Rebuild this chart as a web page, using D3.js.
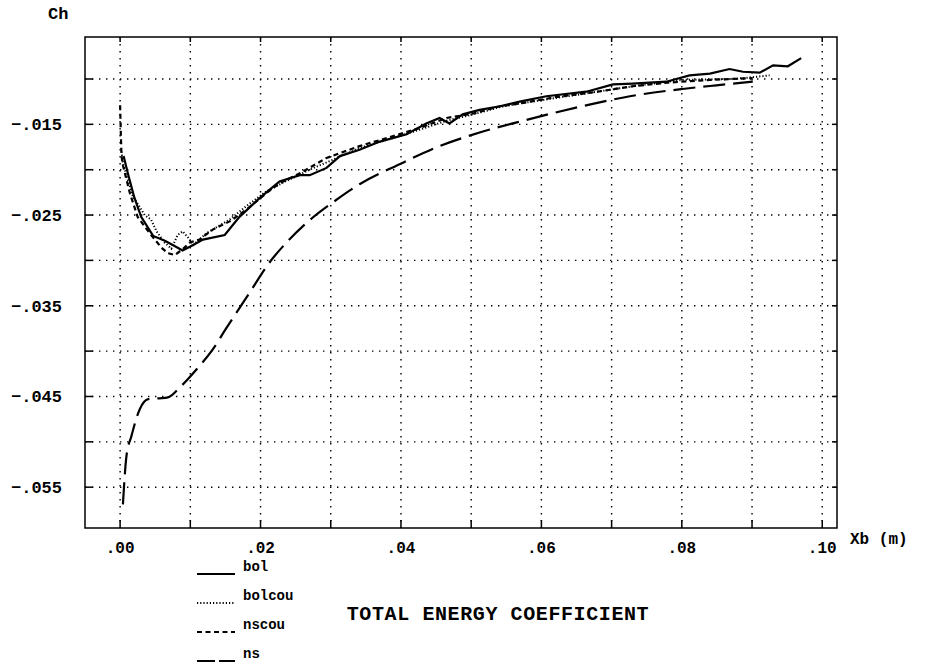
<!DOCTYPE html>
<html>
<head>
<meta charset="utf-8">
<script src="https://cdn.jsdelivr.net/npm/d3@7"></script>
<style>
    body { margin: 0; background: #fff; }
    svg { display: block; font-family: "Liberation Mono", monospace; font-weight: bold; }
</style>
</head>
<body>
<div id="container"></div>
<script>
// series: [Xb (m), Ch]
const bol = [
    [.0005, -.0185], [.0011, -.0204], [.0020, -.0230], [.0030, -.0252], [.0047, -.0273],
    [.0063, -.0278], [.0075, -.0283], [.0089, -.0289], [.0104, -.0283], [.0118, -.0277],
    [.0149, -.0272], [.0170, -.0252], [.0199, -.0231], [.0227, -.0213], [.0256, -.0206],
    [.0270, -.0206], [.0294, -.0198], [.0313, -.0185], [.0341, -.0178], [.0370, -.0169],
    [.0408, -.0161], [.0436, -.0149], [.0455, -.0143], [.0469, -.0149], [.0488, -.0139],
    [.0512, -.0134], [.0541, -.0130], [.0569, -.0125], [.0607, -.0119], [.0664, -.0114],
    [.0702, -.0106], [.0730, -.0105], [.0778, -.0103], [.0811, -.0096], [.0840, -.0094],
    [.0868, -.0089], [.0887, -.0092], [.0911, -.0093], [.0930, -.0085], [.0951, -.0086],
    [.0970, -.0077]
];
const bolcou = [
    [.0002, -.0180], [.0004, -.0193], [.0018, -.0229], [.0035, -.0250], [.0044, -.0255],
    [.0052, -.0268], [.0063, -.0280], [.0073, -.0287], [.0082, -.0272], [.0089, -.0268],
    [.0097, -.0275], [.0104, -.0283], [.0123, -.0270], [.0156, -.0255], [.0180, -.0240],
    [.0208, -.0224], [.0230, -.0215], [.0270, -.0200], [.0300, -.0190], [.0341, -.0176],
    [.0389, -.0165], [.0430, -.0155], [.0465, -.0146], [.0503, -.0139], [.0541, -.0131],
    [.0569, -.0127], [.0620, -.0121], [.0680, -.0114], [.0730, -.0108], [.0801, -.0101],
    [.0873, -.0100], [.0901, -.0098], [.0925, -.0096]
];
const nscou = [
    [.0000, -.0129], [.0001, -.0160], [.0002, -.0185], [.0004, -.0195], [.0014, -.0226],
    [.0025, -.0252], [.0042, -.0270], [.0059, -.0286], [.0068, -.0292], [.0078, -.0294],
    [.0090, -.0287], [.0100, -.0280], [.0113, -.0277], [.0132, -.0266], [.0156, -.0257],
    [.0180, -.0244], [.0208, -.0226], [.0227, -.0215], [.0256, -.0204], [.0294, -.0187],
    [.0341, -.0174], [.0389, -.0163], [.0427, -.0154], [.0465, -.0143], [.0503, -.0138],
    [.0541, -.0130], [.0569, -.0127], [.0620, -.0120], [.0680, -.0114], [.0730, -.0108],
    [.0780, -.0104], [.0840, -.0101], [.0901, -.0099]
];
const ns = [
    [.0004, -.0569], [.0009, -.0516], [.0016, -.0494], [.0028, -.0464], [.0040, -.0453],
    [.0056, -.0452], [.0068, -.0451], [.0085, -.0440], [.0109, -.0420], [.0132, -.0398],
    [.0151, -.0375], [.0184, -.0336], [.0213, -.0302], [.0241, -.0277], [.0274, -.0253],
    [.0303, -.0236], [.0341, -.0216], [.0398, -.0194], [.0455, -.0174], [.0512, -.0159],
    [.0569, -.0147], [.0620, -.0137], [.0664, -.0129], [.0726, -.0119], [.0801, -.0111],
    [.0849, -.0107], [.0901, -.0103]
];

const xTicks = [0, .01, .02, .03, .04, .05, .06, .07, .08, .09, .10];
const xLabels = [0, .02, .04, .06, .08, .10];
const yTicks = [-.055, -.050, -.045, -.040, -.035, -.030, -.025, -.020, -.015, -.010];
const yLabels = [-.055, -.045, -.035, -.025, -.015];

const seriesNames = ['bol', 'bolcou', 'nscou', 'ns'];
const seriesData = [bol, bolcou, nscou, ns];
const seriesDash = [null, '1.2,2', '5,3.5', '22,8'];

const width = 927;
const height = 670;
const margin = { top: 37, right: 90, bottom: 142, left: 85 };

const x = d3.scaleLinear().domain([-0.005, 0.1021]).range([margin.left, width - margin.right]);
const y = d3.scaleLinear().domain([-0.0595, -0.00537]).range([height - margin.bottom, margin.top]);

// old plotter style: no leading zero
const fmtY = v => d3.format('.3f')(v).replace('0.', '.');
const fmtX = v => d3.format('.2f')(v).replace('0.', '.');

const svg = d3.select('#container')
    .append('svg')
    .attr('width', width)
    .attr('height', height);

// grid
svg.append('g')
    .selectAll('line')
    .data(xTicks)
    .join('line')
    .attr('x1', d => x(d)).attr('x2', d => x(d))
    .attr('y1', y.range()[1]).attr('y2', y.range()[0])
    .attr('stroke', '#000').attr('stroke-width', 1.4)
    .attr('stroke-dasharray', '1.4,5.6');

svg.append('g')
    .selectAll('line')
    .data(yTicks)
    .join('line')
    .attr('x1', x.range()[0]).attr('x2', x.range()[1])
    .attr('y1', d => y(d)).attr('y2', d => y(d))
    .attr('stroke', '#000').attr('stroke-width', 1.4)
    .attr('stroke-dasharray', '1.4,5.6');

// frame
svg.append('rect')
    .attr('x', x.range()[0]).attr('y', y.range()[1])
    .attr('width', x.range()[1] - x.range()[0])
    .attr('height', y.range()[0] - y.range()[1])
    .attr('fill', 'none').attr('stroke', '#000').attr('stroke-width', 1.5);

// ticks
const tk = svg.append('g').attr('stroke', '#000').attr('stroke-width', 1.5);
xTicks.forEach(d => {
    tk.append('line').attr('x1', x(d)).attr('x2', x(d))
        .attr('y1', y.range()[0]).attr('y2', y.range()[0] - 8);
    tk.append('line').attr('x1', x(d)).attr('x2', x(d))
        .attr('y1', y.range()[1]).attr('y2', y.range()[1] + 5);
});
yTicks.forEach(d => {
    tk.append('line').attr('x1', x.range()[0]).attr('x2', x.range()[0] + 8)
        .attr('y1', y(d)).attr('y2', y(d));
    tk.append('line').attr('x1', x.range()[1]).attr('x2', x.range()[1] - 5)
        .attr('y1', y(d)).attr('y2', y(d));
});

// labels
svg.append('g')
    .selectAll('text')
    .data(yLabels)
    .join('text')
    .attr('x', 62)
    .attr('y', d => y(d))
    .attr('dy', '0.35em')
    .attr('text-anchor', 'end')
    .attr('font-size', 17)
    .text(d => fmtY(d));

svg.append('g')
    .selectAll('text')
    .data(xLabels)
    .join('text')
    .attr('x', d => x(d))
    .attr('y', y.range()[0] + 19)
    .attr('dy', '0.35em')
    .attr('text-anchor', 'middle')
    .attr('font-size', 16)
    .text(d => fmtX(d));

svg.append('text')
    .attr('x', 48).attr('y', 19)
    .attr('font-size', 17)
    .text('Ch');

svg.append('text')
    .attr('x', 850).attr('y', y.range()[0] + 10)
    .attr('dy', '0.35em')
    .attr('font-size', 16)
    .text('Xb (m)');

// curves
const line = d3.line().x(d => x(d[0])).y(d => y(d[1]));
const smooth = d3.line().x(d => x(d[0])).y(d => y(d[1])).curve(d3.curveMonotoneX);

seriesData.forEach((data, i) => {
    svg.append('path')
        .datum(data)
        .attr('fill', 'none')
        .attr('stroke', '#000')
        .attr('stroke-width', i === 1 ? 2 : 2.2)
        .attr('stroke-dasharray', seriesDash[i])
        .attr('d', seriesNames[i] === 'ns' ? smooth : line);
});

// legend
const legend = svg.append('g')
    .selectAll('g')
    .data(seriesNames)
    .join('g')
    .attr('transform', (d, i) => `translate(197,${571 + i * 29})`);

legend.append('line')
    .attr('x1', 0).attr('x2', 38)
    .attr('y1', 3).attr('y2', 3)
    .attr('stroke', '#000')
    .attr('stroke-width', 2)
    .attr('stroke-dasharray', (d, i) => i === 3 ? '18,4' : seriesDash[i]);

legend.append('text')
    .attr('x', 46)
    .attr('y', 0)
    .attr('font-size', 14)
    .text(d => d);

svg.append('text')
    .attr('x', 498).attr('y', 613)
    .attr('dy', '0.35em')
    .attr('text-anchor', 'middle')
    .attr('font-size', 20)
    .attr('letter-spacing', 0.6)
    .text('TOTAL ENERGY COEFFICIENT');
</script>
</body>
</html>
